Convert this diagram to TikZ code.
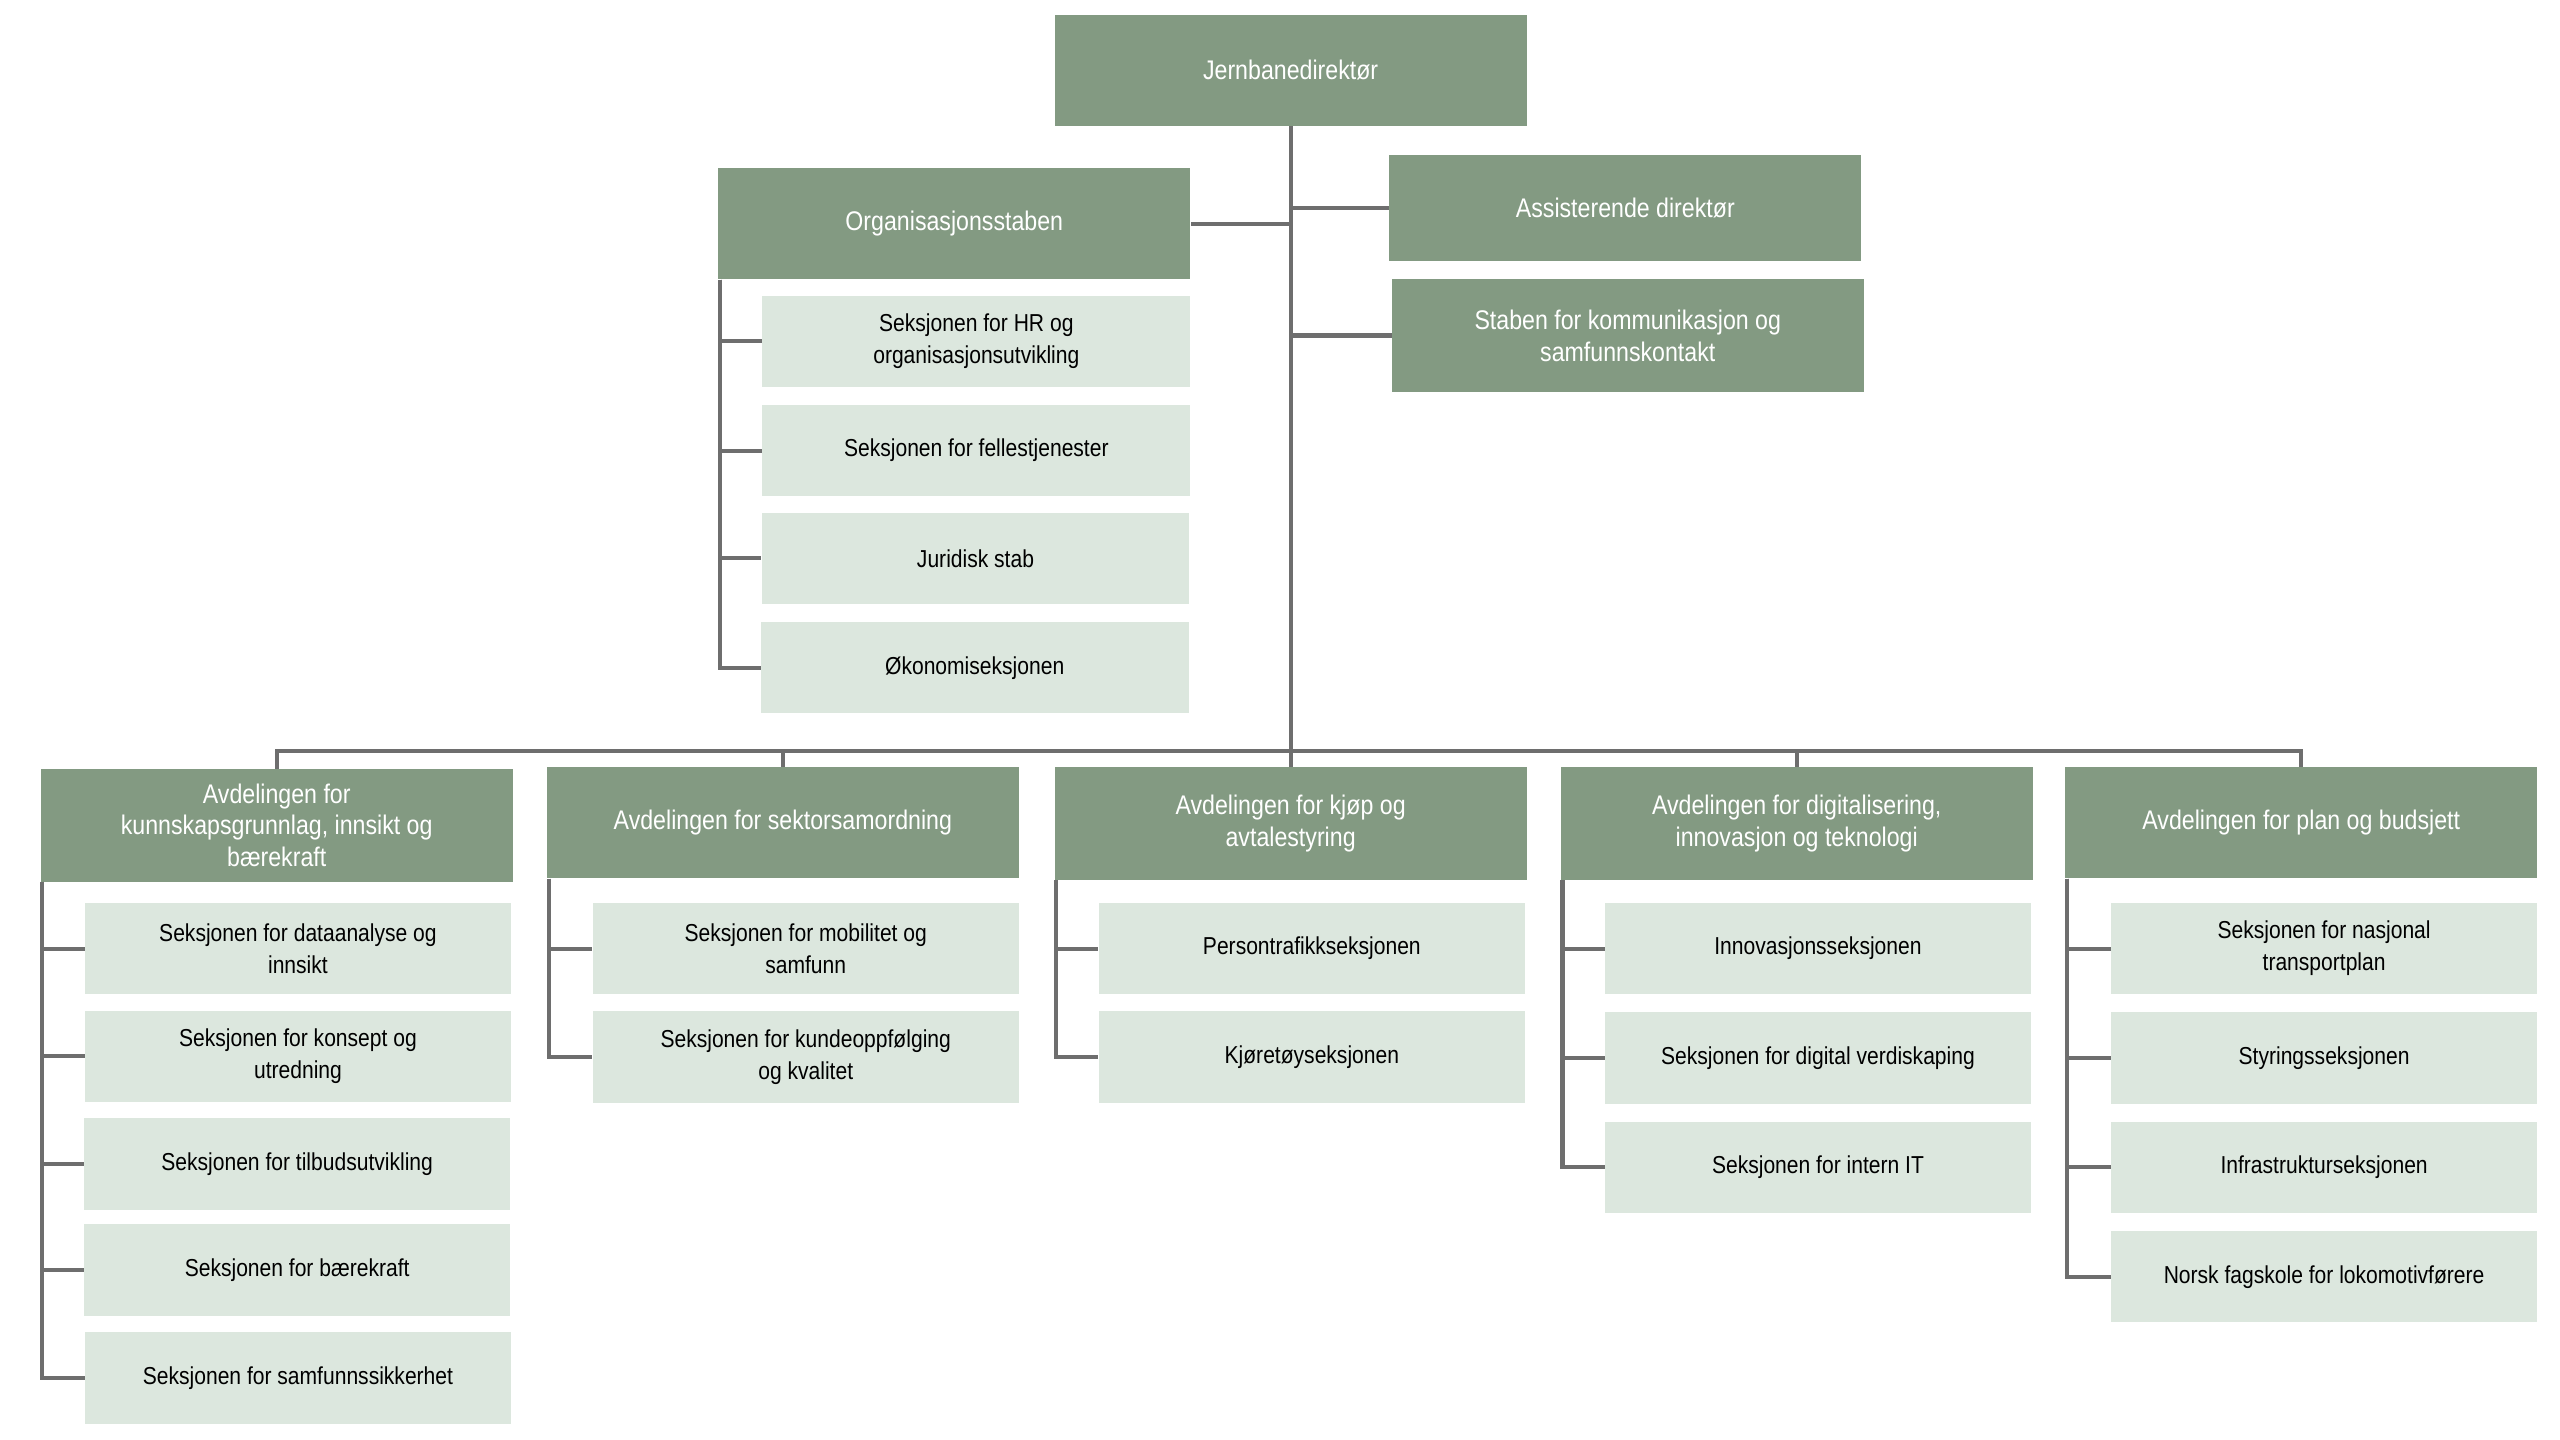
\documentclass[tikz,border=0pt]{standalone}
\usepackage{fontspec}
\setmainfont{Liberation Sans}[FakeStretch=0.86]
\definecolor{dk}{HTML}{839A82}
\definecolor{lt}{HTML}{DCE7DE}
\definecolor{ln}{HTML}{6E6E6E}
\begin{document}
\begin{tikzpicture}[x=1pt,y=-1pt,
  dkbox/.style={fill=dk,text=white,inner sep=2pt,align=center,minimum width=289pt,minimum height=68pt,font=\fontsize{16.5}{19.5}\selectfont},
  ltbox/.style={fill=lt,text=black,inner sep=2pt,align=center,minimum width=261pt,minimum height=56pt,font=\fontsize{15}{19.5}\selectfont},
  conn/.style={draw=ln,line width=2.5pt}]
\useasboundingbox (0,0) rectangle (1568,882);
\node[dkbox] (top) at (790.5,43) {Jernbanedirektør};
\node[dkbox] (org) at (584.5,137) {Organisasjonsstaben};
\node[dkbox,minimum height=65pt] (ass) at (995.5,127.5) {Assisterende direktør};
\node[dkbox,minimum height=69pt] (stab) at (997,205.5) {Staben for kommunikasjon og\\samfunnskontakt};
\node[ltbox,minimum width=262pt] (o1) at (598,209) {Seksjonen for HR og\\organisasjonsutvikling};
\node[ltbox,minimum width=262pt] (o2) at (598,276) {Seksjonen for fellestjenester};
\node[ltbox,minimum width=262pt] (o3) at (597.5,342) {Juridisk stab};
\node[ltbox,minimum width=262pt] (o4) at (597,409) {Økonomiseksjonen};
\node[dkbox,minimum height=69pt] (d1) at (169.5,505.5) {Avdelingen for\\kunnskapsgrunnlag, innsikt og\\bærekraft};
\node[dkbox] (d2) at (479.5,504) {Avdelingen for sektorsamordning};
\node[dkbox,minimum height=69pt] (d3) at (790.5,504.5) {Avdelingen for kjøp og\\avtalestyring};
\node[dkbox,minimum height=69pt] (d4) at (1100.5,504.5) {Avdelingen for digitalisering,\\innovasjon og teknologi};
\node[dkbox] (d5) at (1409.5,504) {Avdelingen for plan og budsjett};
\node[ltbox] (a1) at (182.5,581) {Seksjonen for dataanalyse og\\innsikt};
\node[ltbox] (a2) at (182.5,647) {Seksjonen for konsept og\\utredning};
\node[ltbox] (a3) at (182,713) {Seksjonen for tilbudsutvikling};
\node[ltbox] (a4) at (182,778) {Seksjonen for bærekraft};
\node[ltbox] (a5) at (182.5,844) {Seksjonen for samfunnssikkerhet};
\node[ltbox] (b1) at (493.5,581) {Seksjonen for mobilitet og\\samfunn};
\node[ltbox] (b2) at (493.5,647.5) {Seksjonen for kundeoppfølging\\og kvalitet};
\node[ltbox] (c1) at (803.5,581) {Persontrafikkseksjonen};
\node[ltbox] (c2) at (803.5,647.5) {Kjøretøyseksjonen};
\node[ltbox] (e1) at (1113.5,581) {Innovasjonsseksjonen};
\node[ltbox] (e2) at (1113.5,648) {Seksjonen for digital verdiskaping};
\node[ltbox] (e3) at (1113.5,715) {Seksjonen for intern IT};
\node[ltbox] (f1) at (1423.5,581) {Seksjonen for nasjonal\\transportplan};
\node[ltbox] (f2) at (1423.5,648) {Styringsseksjonen};
\node[ltbox] (f3) at (1423.5,715) {Infrastrukturseksjonen};
\node[ltbox] (f4) at (1423.5,782) {Norsk fagskole for lokomotivførere};
\coordinate (bus) at (790.5,460);
\draw[conn] (top.south) |- (org.east);
\draw[conn] (top.south) |- (ass.west);
\draw[conn] (top.south) |- (stab.west);
\draw[conn] (top.south) -- (bus);
\foreach \d in {d1,d2,d3,d4,d5} \draw[conn] (bus) -| (\d.north);
\foreach \c in {o1,o2,o3,o4} \draw[conn] ([xshift=1.2pt]org.south west) |- (\c.west);
\foreach \c in {a1,a2,a3,a4,a5} \draw[conn] ([xshift=1.2pt]d1.south west) |- (\c.west);
\foreach \c in {b1,b2} \draw[conn] ([xshift=1.2pt]d2.south west) |- (\c.west);
\foreach \c in {c1,c2} \draw[conn] ([xshift=1.2pt]d3.south west) |- (\c.west);
\foreach \c in {e1,e2,e3} \draw[conn] ([xshift=1.2pt]d4.south west) |- (\c.west);
\foreach \c in {f1,f2,f3,f4} \draw[conn] ([xshift=1.2pt]d5.south west) |- (\c.west);
\end{tikzpicture}
\end{document}
